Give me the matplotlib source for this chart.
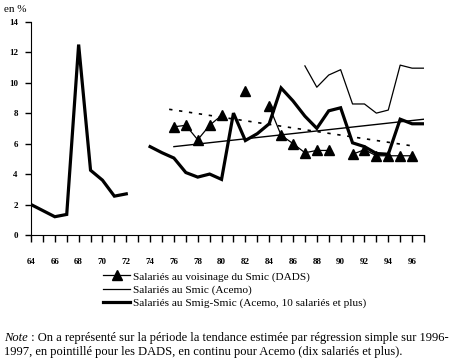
import matplotlib
matplotlib.use("Agg")
import matplotlib.pyplot as plt
import numpy as np

plt.rcParams['font.family'] = ['Liberation Serif', 'DejaVu Serif']

# data
years = list(range(64, 98))
nan = np.nan
smig_smic = [2.0, 1.6, 1.2, 1.35, 12.5, 4.25, 3.6, 2.55, 2.7, nan,
             5.8, 5.4, 5.05, 4.1, 3.8, 4.0, 3.65, 8.0, 6.2, 6.65,
             7.3, 9.65, 8.8, 7.8, 7.0, 8.15, 8.35, 6.05, 5.8, 5.35,
             5.3, 7.6, 7.3, 7.3]
smic_acemo = [nan] * 23 + [11.1, 9.7, 10.5, 10.85, 8.6, 8.6, 8.0, 8.2, 11.15, 10.95, 10.95]
dads = [nan] * 12 + [7.1, 7.2, 6.25, 7.2, 7.85, nan, 9.45, nan,
                     8.45, 6.55, 6.0, 5.4, 5.55, 5.55, nan, 5.3, 5.6, 5.2,
                     5.2, 5.2, 5.2, nan]
trend_dads_x = [75.6, 96]
trend_dads_y = [8.25, 5.85]
trend_acemo_x = [76, 97]
trend_acemo_y = [5.8, 7.6]

fig = plt.figure(figsize=(4.51, 3.58), dpi=100)
ax = fig.add_axes([31 / 451, 1 - 235 / 358, 393 / 451, 213.3 / 358])

l1, = ax.plot(years, dads, color='black', lw=0.9, marker='^', markersize=6.5,
              label='Salariés au voisinage du Smic (DADS)')
l2, = ax.plot(years, smic_acemo, color='black', lw=0.9,
              label='Salariés au Smic (Acemo)')
l3, = ax.plot(years, smig_smic, color='black', lw=2.3, solid_joinstyle='miter',
              label='Salariés au Smig-Smic (Acemo, 10 salariés et plus)')
ax.plot(trend_dads_x, trend_dads_y, color='black', lw=1.2, ls=(0, (2, 4)))
ax.plot(trend_acemo_x, trend_acemo_y, color='black', lw=1.0)

ax.set_xlim(64, 97)
ax.set_ylim(0, 14)
ax.spines['top'].set_visible(False)
ax.spines['right'].set_visible(False)
ax.set_xticks(years)
ax.set_xticklabels([str(y) if y % 2 == 0 and y < 97 else '' for y in years])
ax.set_yticks(range(0, 15, 2))
ax.tick_params(axis='x', direction='out', length=5, width=1, pad=11.5, labelsize=6.5)
ax.tick_params(axis='y', direction='out', length=4, width=1, pad=5.5, labelsize=6.5)
for lab in ax.get_xticklabels() + ax.get_yticklabels():
    lab.set_fontweight('bold')

fig.text(4 / 451, 1 - 9 / 358, 'en %', fontsize=8, va='center', ha='left')

fig.legend(handles=[l1, l2, l3], loc='upper left', bbox_to_anchor=(103 / 451, 1 - 271.5 / 358),
           frameon=False, fontsize=8.1, handlelength=2.4, handletextpad=0.27,
           labelspacing=0.28, borderpad=0, borderaxespad=0)

t1 = fig.text(4 / 451, 1 - 338 / 358, 'Note', fontsize=9, style='italic', va='center')
fig.canvas.draw()
bb = t1.get_window_extent()
fig.text(bb.x1 / fig.bbox.width, 1 - 338 / 358,
         ' : On a représenté sur la période la tendance estimée par régression simple sur 1996-',
         fontsize=9, va='center')
fig.text(4 / 451, 1 - 352 / 358,
         '1997, en pointillé pour les DADS, en continu pour Acemo (dix salariés et plus).',
         fontsize=9, va='center')

fig.savefig('out.png', dpi=100)
